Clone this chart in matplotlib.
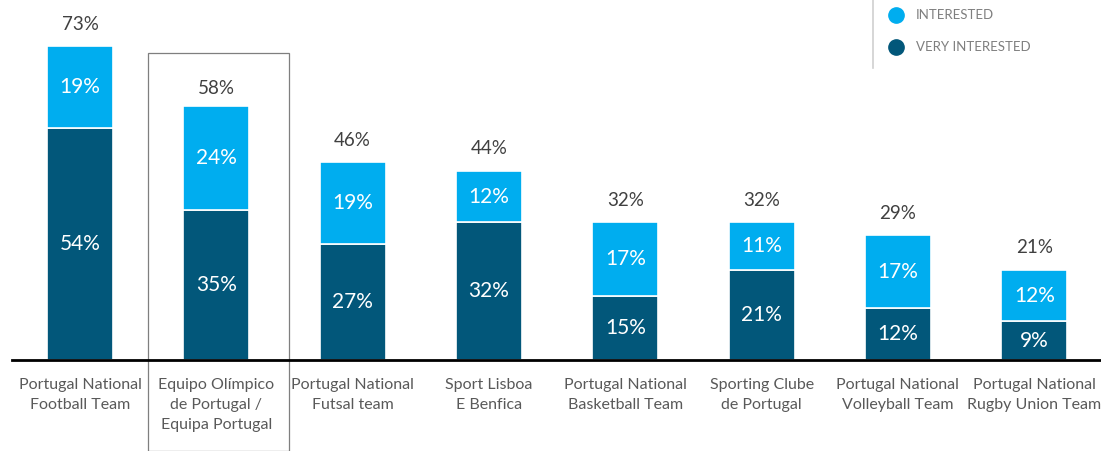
import matplotlib
matplotlib.use("Agg")
import matplotlib.pyplot as plt
from matplotlib.patches import Rectangle
import numpy as np

teams = ["Portugal National\nFootball Team", "Equipo Olímpico\nde Portugal /\nEquipa Portugal",
         "Portugal National\nFutsal team", "Sport Lisboa\nE Benfica",
         "Portugal National\nBasketball Team", "Sporting Clube\nde Portugal",
         "Portugal National\nVolleyball Team", "Portugal National\nRugby Union Team"]
very_interested = [54, 35, 27, 32, 15, 21, 12, 9]
interested = [19, 24, 19, 12, 17, 11, 17, 12]
totals = [73, 58, 46, 44, 32, 32, 29, 21]

dark = "#02577a"
light = "#00adef"
font_fam = ["Lato", "DejaVu Sans"]

fig = plt.figure(figsize=(11.01, 4.51), dpi=100)
W, H = 1101, 451
ax = fig.add_axes([12 / W, (H - 360) / H, (W - 12) / W, 360 / H])
ax.set_xlim(-0.499, 7.49)
ax.set_ylim(0, 360 / 4.3)

xs = np.arange(len(teams))
bw = 0.484
ax.bar(xs, very_interested, width=bw, color=dark, edgecolor="white", linewidth=1.2, zorder=2)
ax.bar(xs, interested, width=bw, bottom=very_interested, color=light, edgecolor="white", linewidth=1.2, zorder=2)

for x, v, i, t in zip(xs, very_interested, interested, totals):
    ax.text(x, v / 2, f"{v}%", ha="center", va="center", color="white", fontsize=15, family=font_fam)
    ax.text(x, v + i / 2, f"{i}%", ha="center", va="center", color="white", fontsize=15, family=font_fam)
    ax.text(x, t + 22 / 4.3, f"{t}%", ha="center", va="center", color="#404040", fontsize=13.5, family=font_fam)

# highlight box around second category
box = Rectangle((0.499, -91 / 4.3), 1.034, (91 + 307) / 4.3, fill=False, edgecolor="#7f7f7f",
                linewidth=0.9, clip_on=False, zorder=1)
ax.add_patch(box)

for s in ["top", "right", "left"]:
    ax.spines[s].set_visible(False)
ax.spines["bottom"].set_linewidth(2)
ax.spines["bottom"].set_color("black")
ax.set_yticks([])
ax.set_xticks(xs)
ax.set_xticklabels(teams, fontsize=11.5, color="#595959", family=font_fam, linespacing=1.55)
ax.tick_params(axis="x", length=0, pad=13)

# legend
fig.add_artist(plt.Line2D([873 / W, 873 / W], [1, (H - 68) / H], color="#d0d0d0", lw=1.2))
for yy, c, lab in [(15, light, "INTERESTED"), (47, dark, "VERY INTERESTED")]:
    fig.add_artist(plt.Line2D([896 / W], [(H - yy) / H], marker="o", markersize=11, color=c, lw=0))
    fig.text(916 / W, (H - yy) / H, lab, va="center", ha="left", fontsize=9.5, color="#7f7f7f",
             family=font_fam)

fig.savefig("out.png", dpi=100)
